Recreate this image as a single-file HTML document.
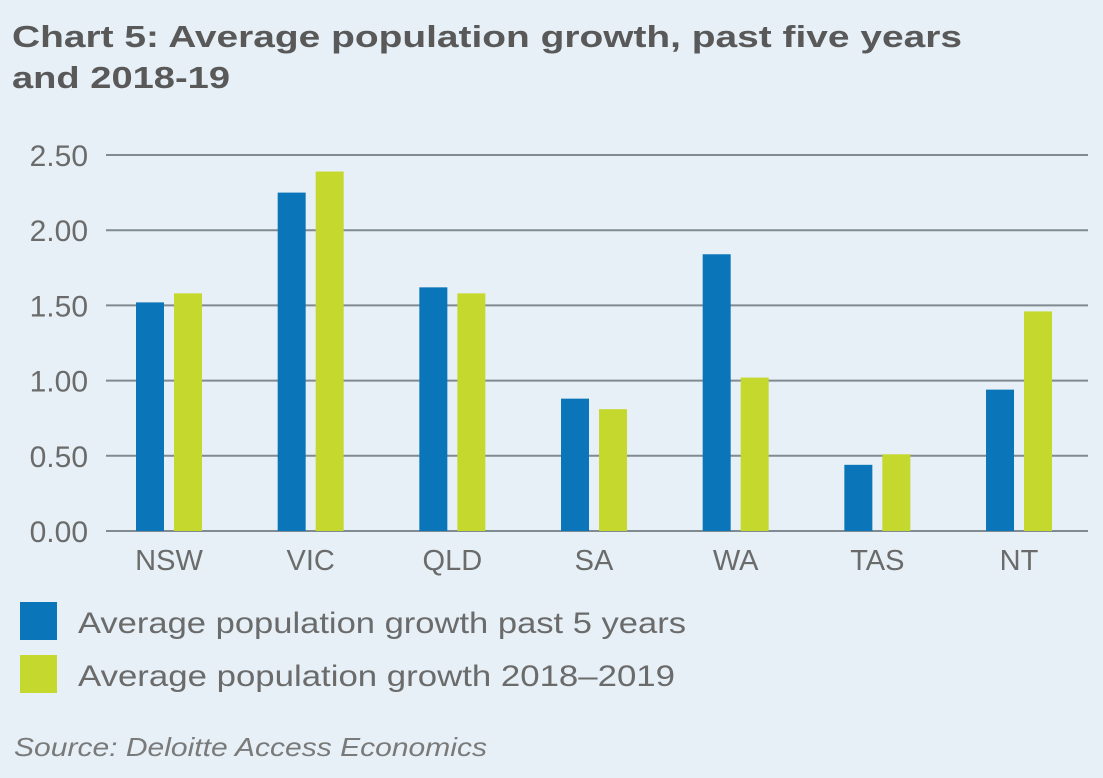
<!DOCTYPE html>
<html><head><meta charset="utf-8"><style>
body{margin:0;width:1103px;height:778px;background:#e6f0f6;font-family:"Liberation Sans",sans-serif;overflow:hidden}
svg{position:absolute;left:0;top:0}
</style></head><body>
<svg width="1103" height="778">
<text x="12" y="47" font-size="31" font-weight="bold" fill="#595959" textLength="950" lengthAdjust="spacingAndGlyphs">Chart 5: Average population growth, past five years</text>
<text x="12" y="88" font-size="31" font-weight="bold" fill="#595959" textLength="218" lengthAdjust="spacingAndGlyphs">and 2018-19</text>
<g id="grid"></g><g id="bars"></g><g id="xl"></g>
<rect x="20" y="602" width="37" height="38" fill="#0a75b8"/>
<text x="78" y="633" font-size="30" fill="#6b6b6b" textLength="608" lengthAdjust="spacingAndGlyphs">Average population growth past 5 years</text>
<rect x="20" y="655" width="37" height="38" fill="#c5d82e"/>
<text x="78" y="686" font-size="30" fill="#6b6b6b" textLength="597" lengthAdjust="spacingAndGlyphs">Average population growth 2018–2019</text>
<text x="14" y="756" font-size="26" font-style="italic" fill="#7a7a7a" textLength="473" lengthAdjust="spacingAndGlyphs">Source: Deloitte Access Economics</text>
</svg>
<script>
const categories=["NSW","VIC","QLD","SA","WA","TAS","NT"];
const past5=[1.52,2.25,1.62,0.88,1.84,0.44,0.94];
const y2018=[1.58,2.39,1.58,0.81,1.02,0.51,1.46];
const ticks=[0,0.5,1,1.5,2,2.5];
const tickLabels=["0.00","0.50","1.00","1.50","2.00","2.50"];
const NS="http://www.w3.org/2000/svg";
const y0=531,y1=155,vmax=2.5,x0=106,x1=1088;
const Y=v=>y0-(v/vmax)*(y0-y1);
const gw=141.67;
const X=i=>169+gw*i;
function mk(t,a,p){const e=document.createElementNS(NS,t);for(const k in a)e.setAttribute(k,a[k]);p.appendChild(e);return e;}
const g=document.getElementById('grid'),b=document.getElementById('bars'),xl=document.getElementById('xl');
ticks.forEach((t,i)=>{
 const l=mk('line',{x1:x0,x2:x1,y1:Y(t),y2:Y(t),stroke:'#7f8a91','stroke-width':2},g);
 
 
 const tx=mk('text',{x:88,y:Y(t)+11,'font-size':30,fill:'#6b6b6b','text-anchor':'end'},g);
 tx.textContent=tickLabels[i];
 
 
});
categories.forEach((c,i)=>{
 const cx=X(i);
 const r1=mk('rect',{x:cx-33,y:Y(past5[i]),width:28,height:y0-Y(past5[i]),fill:'#0a75b8'},b);
 
 
 const r2=mk('rect',{x:cx+5,y:Y(y2018[i]),width:28,height:y0-Y(y2018[i]),fill:'#c5d82e'},b);
 
 
 const t=mk('text',{x:cx,y:570,'font-size':29,fill:'#6b6b6b','text-anchor':'middle'},xl);
 t.textContent=c;
 
 
});
</script>
</body></html>
